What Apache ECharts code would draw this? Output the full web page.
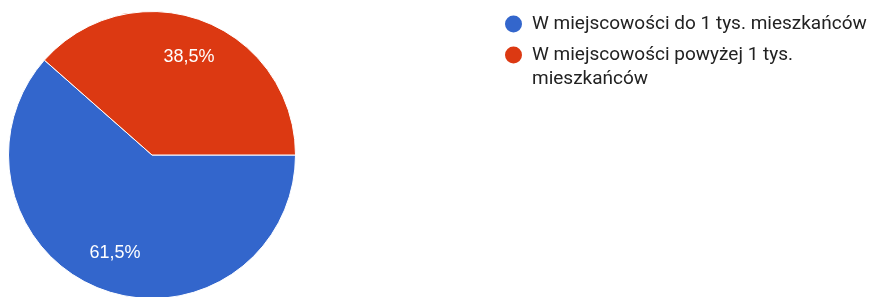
<!DOCTYPE html>
<html>
<head>
<meta charset="utf-8">
<script src="https://cdn.jsdelivr.net/npm/echarts@6/dist/echarts.min.js"></script>
<style>
  html, body { margin: 0; padding: 0; background: #fff; }
  #chart { width: 876px; height: 297px; }
</style>
</head>
<body>
<div id="chart"></div>
<script>
const categories = ['W miejscowości do 1 tys. mieszkańców', 'W miejscowości powyżej 1 tys. mieszkańców']
const values = [61.5, 38.5]
const colors = ['#3366cc', '#dc3912']

const pieData = categories.map((name, i) => ({
  name,
  value: values[i],
  itemStyle: { color: colors[i] }
}))

const chart = echarts.init(document.getElementById('chart'))
chart.setOption({
  animation: false,
  legend: {
    orient: 'vertical',
    left: 505,
    top: 12,
    padding: 0,
    itemGap: -17,
    icon: 'circle',
    itemWidth: 27,
    itemHeight: 17,
    itemStyle: { borderWidth: 0 },
    // a leading blank line keeps the first text line level with the dot
    formatter: name => (categories.indexOf(name) > 0 ? '\n' : '') + name,
    textStyle: {
      fontFamily: 'Roboto',
      fontSize: 19,
      color: '#222',
      lineHeight: 24,
      width: 362,
      overflow: 'break'
    },
    data: categories
  },
  series: [
    {
      type: 'pie',
      center: [152, 155],
      radius: [0, 143.5],
      startAngle: 0,
      clockwise: true,
      silent: true,
      label: { show: false },
      labelLine: { show: false },
      itemStyle: { borderColor: '#fff', borderWidth: 1 },
      data: pieData
    },
    {
      // label ring, so percentages sit further out like the original
      type: 'pie',
      center: [152, 155],
      radius: [59, 144],
      startAngle: 0,
      clockwise: true,
      silent: true,
      legendHoverLink: false,
      itemStyle: { color: 'transparent', borderWidth: 0 },
      label: {
        show: true,
        position: 'inside',
        fontFamily: 'Liberation Sans, Arial',
        fontSize: 18,
        color: '#fff',
        padding: [7, 0, 0, 0],
        formatter: p => p.value.toFixed(1).replace('.', ',') + '%'
      },
      labelLine: { show: false },
      data: categories.map((name, i) => ({ name: name + ' ', value: values[i] }))
    }
  ]
})
</script>
</body>
</html>
